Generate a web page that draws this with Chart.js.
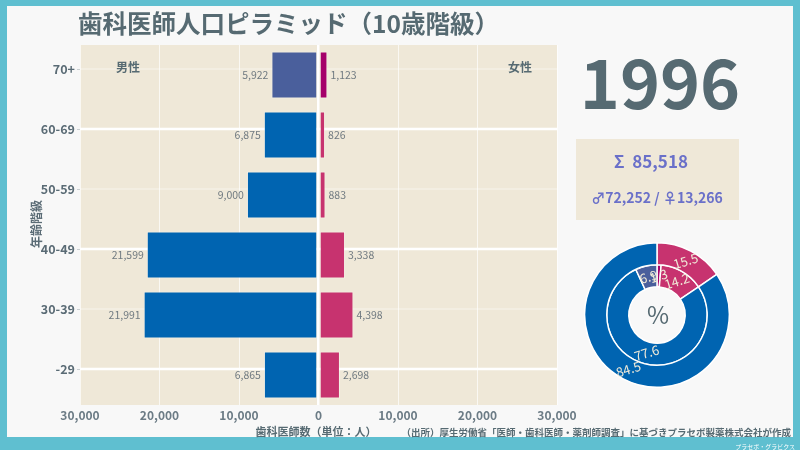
<!DOCTYPE html>
<html><head><meta charset="utf-8">
<script src="https://cdn.jsdelivr.net/npm/chart.js@4"></script>
<style>
html,body{margin:0;padding:0}
body{width:800px;height:450px;background:#5fbfd0;position:relative;overflow:hidden;font-family:"Noto Sans CJK JP","Noto Sans",sans-serif}
#panel{position:absolute;left:7px;top:6px;width:786px;height:431px;background:#f8f8f8}
.t{position:absolute;white-space:nowrap;line-height:1}
#bar{position:absolute;left:0;top:0}
#pie{position:absolute;left:584px;top:242px}
</style></head>
<body>
<div id="panel"></div>
<canvas id="bar" width="800" height="450"></canvas>
<canvas id="pie" width="146" height="146"></canvas>
<div class="t" style="left:78px;top:11px;font-size:24.5px;font-weight:700;color:#566a72">歯科医師人口ピラミッド（10歳階級）</div>
<div class="t" style="left:36px;top:224px;font-size:12px;font-weight:700;color:#5a6b75;transform:translate(-50%,-50%) rotate(-90deg);transform-origin:center">年齢階級</div>
<div class="t" style="left:316px;top:431px;font-size:11px;font-weight:700;color:#566a72;transform:translate(-50%,-50%)">歯科医師数（単位：人）</div>
<div class="t" style="right:9px;top:428px;font-size:9.5px;font-weight:700;color:#566a72">（出所）厚生労働省「医師・歯科医師・薬剤師調査」に基づきプラセボ製薬株式会社が作成</div>
<div class="t" style="right:5px;top:444px;font-size:6px;color:#ffffff">プラセボ・グラビクス</div>
<div class="t" style="left:128px;top:67px;font-size:12px;font-weight:700;color:#566a72;transform:translate(-50%,-50%)">男性</div>
<div class="t" style="left:520px;top:67px;font-size:12px;font-weight:700;color:#566a72;transform:translate(-50%,-50%)">女性</div>
<div class="t" id="year" style="left:660px;top:80px;font-size:68px;font-weight:700;color:#566a72;transform:translate(-50%,-50%)">1996</div>
<div style="position:absolute;left:576px;top:139px;width:163px;height:81px;background:#efe8d8"></div>
<div class="t" id="sum" style="left:651px;top:160px;font-size:17px;font-weight:700;color:#6a70c9;transform:translate(-50%,-50%)"></div>
<div class="t" id="mf" style="left:657px;top:197px;font-size:14px;font-weight:700;color:#6a70c9;transform:translate(-50%,-50%)"></div>
<div class="t" style="left:658px;top:314px;font-size:24px;color:#566a72;transform:translate(-50%,-50%)">%</div>
<script>
// ---- data ----
const year = "1996";
const ageGroups = ["70+", "60-69", "50-59", "40-49", "30-39", "-29"];
const maleValues = [5922, 6875, 9000, 21599, 21991, 6865];
const femaleValues = [1123, 826, 883, 3338, 4398, 2698];
const xTicks = [-30000, -20000, -10000, 0, 10000, 20000, 30000];

const C_MALE = "#0064b1", C_FEMALE = "#c7336f", C_MALE_OLD = "#4a5f9c", C_FEMALE_OLD = "#a5006a";
const fmt = v => Math.abs(v).toLocaleString("en-US");
const FONT = '"Noto Sans CJK JP","Noto Sans",sans-serif';

const maleTotal = maleValues.reduce((a,b)=>a+b,0);
const femaleTotal = femaleValues.reduce((a,b)=>a+b,0);
const total = maleTotal + femaleTotal;
document.getElementById("sum").textContent = "Σ\u00a0\u00a0" + fmt(total);
document.getElementById("mf").textContent = "♂" + fmt(maleTotal) + " / ♀" + fmt(femaleTotal);
document.getElementById("year").textContent = year;

const bg = {
  id: "bg",
  beforeDraw(c) {
    const {ctx, chartArea: a} = c;
    ctx.save(); ctx.fillStyle = "#efe8d8";
    ctx.fillRect(a.left, a.top, a.right - a.left, a.bottom - a.top);
    ctx.restore();
  },
  beforeDatasetsDraw(c) {
    const {ctx, chartArea: a} = c;
    const ys = c.scales.y;
    ctx.save();
    ys.ticks.forEach((t, i) => {
      const y = Math.round(ys.getPixelForTick(i) - 6);
      const major = i % 2 === 1;
      ctx.strokeStyle = major ? "#ffffff" : "rgba(255,255,255,0.55)";
      ctx.lineWidth = major ? 2.5 : 1;
      ctx.beginPath(); ctx.moveTo(a.left, y); ctx.lineTo(a.right, y); ctx.stroke();
      ctx.strokeStyle = "#c9cfd2"; ctx.lineWidth = 1;
      ctx.beginPath(); ctx.moveTo(a.left - 3, y + 0.5); ctx.lineTo(a.left, y + 0.5); ctx.stroke();
    });
    ctx.restore();
  },
  afterDatasetsDraw(c) {
    const {ctx} = c;
    ctx.save();
    ctx.font = "10.5px " + FONT; ctx.fillStyle = "#707a80"; ctx.textBaseline = "middle";
    c.getDatasetMeta(0).data.forEach((el, i) => {
      ctx.textAlign = "right"; ctx.fillText(fmt(maleValues[i]), el.x - 3, el.y);
    });
    c.getDatasetMeta(1).data.forEach((el, i) => {
      ctx.textAlign = "left"; ctx.fillText(fmt(femaleValues[i]), el.x + 3, el.y);
    });
    ctx.restore();
  }
};

new Chart(document.getElementById("bar"), {
  type: "bar",
  data: {
    labels: ageGroups,
    datasets: [
      { label: "男性", data: maleValues.map(v => -v),
        backgroundColor: ageGroups.map((g,i) => i === 0 ? C_MALE_OLD : C_MALE),
        borderColor: "rgba(255,255,255,0.35)", borderWidth: 1, borderSkipped: false },
      { label: "女性", data: femaleValues,
        backgroundColor: ageGroups.map((g,i) => i === 0 ? C_FEMALE_OLD : C_FEMALE),
        borderColor: "rgba(255,255,255,0.35)", borderWidth: 1, borderSkipped: false }
    ]
  },
  options: {
    indexAxis: "y", responsive: false, animation: false,
    layout: { padding: { left: 0, right: 243, top: 45, bottom: 0 } },
    plugins: { legend: { display: false }, tooltip: { enabled: false } },
    datasets: { bar: { barPercentage: 0.78, categoryPercentage: 1 } },
    scales: {
      x: {
        stacked: true, min: -30000, max: 30000,
        afterBuildTicks: s => { s.ticks = xTicks.map(v => ({ value: v })); },
        afterFit: s => { s.height = 45; },
        border: { display: false },
        grid: { color: c => c.tick && c.tick.value === 0 ? "#ffffff" : "rgba(255,255,255,0.7)",
                lineWidth: c => c.tick && c.tick.value === 0 ? 2.5 : 1, drawTicks: false },
        ticks: { callback: v => fmt(v), color: "#6b7b85", padding: 3, maxRotation: 0,
                 font: { family: FONT, size: 12, weight: "600" } }
      },
      y: {
        stacked: true,
        afterFit: s => { s.width = 80; },
        border: { display: false },
        grid: { color: "transparent", drawTicks: true, tickLength: 3 },
        ticks: { color: "#5a6b75", padding: 2, labelOffset: -6,
                 font: { family: FONT, size: 12.5, weight: "700" } }
      }
    }
  },
  plugins: [bg]
});

// doughnut
const male70 = maleValues[0], female70 = femaleValues[0];
const outerData = [femaleTotal, maleTotal];
const innerData = [female70, femaleTotal - female70, maleTotal - male70, male70];

const pieLabels = {
  id: "pieLabels",
  afterDatasetsDraw(c) {
    const {ctx} = c;
    ctx.save();
    ctx.font = "13px " + FONT; ctx.fillStyle = "#f0ead8";
    ctx.textAlign = "center"; ctx.textBaseline = "middle";
    c.data.datasets.forEach((ds, di) => {
      c.getDatasetMeta(di).data.forEach((el, i) => {
        const p = el.getProps(["startAngle","endAngle","innerRadius","outerRadius","x","y"]);
        const a = (p.startAngle + p.endAngle) / 2, r = (p.innerRadius + p.outerRadius) / 2;
        const x = p.x + Math.cos(a) * r, y = p.y + Math.sin(a) * r;
        const txt = (ds.data[i] / total * 100).toFixed(1);
        ctx.save(); ctx.translate(x, y); ctx.rotate(-17 * Math.PI / 180);
        ctx.fillText(txt, 0, 0); ctx.restore();
      });
    });
    ctx.restore();
  }
};

new Chart(document.getElementById("pie"), {
  type: "doughnut",
  data: {
    labels: ["女性", "男性"],
    datasets: [
      { data: outerData, backgroundColor: [C_FEMALE, C_MALE], borderColor: "#ffffff", borderWidth: 1.5 },
      { data: innerData, backgroundColor: [C_FEMALE_OLD, C_FEMALE, C_MALE, C_MALE_OLD], borderColor: "#ffffff", borderWidth: 1.5 }
    ]
  },
  options: {
    responsive: false, animation: false, cutout: "39%",
    plugins: { legend: { display: false }, tooltip: { enabled: false } }
  },
  plugins: [pieLabels]
});
</script>
</body></html>
